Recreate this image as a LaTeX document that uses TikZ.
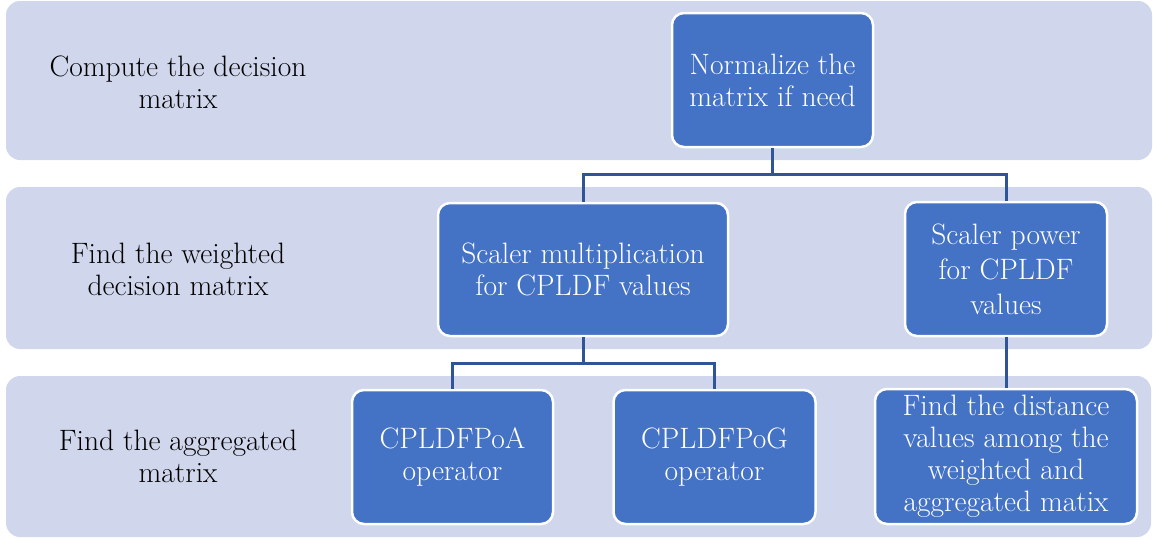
\documentclass[tikz,border=0pt]{standalone}
\definecolor{bandfill}{RGB}{208,214,235}
\definecolor{boxfill}{RGB}{68,114,196}
\definecolor{linkcol}{RGB}{47,85,151}
\tikzset{
  band/.style={fill=bandfill, draw=none, rounded corners=14pt},
  stepbox/.style={fill=boxfill, draw=white, line width=2.5pt, rounded corners=12pt,
    text=white, align=center, font=\fontsize{29.5}{32}\selectfont, inner sep=0pt},
  bandlabel/.style={align=center, font=\fontsize{29.5}{32}\selectfont, text=black, inner sep=0pt},
  link/.style={draw=linkcol, line width=3pt},
}
\begin{document}
\begin{tikzpicture}[x=1pt,y=-1pt]
\useasboundingbox (0,0) rectangle (1153,539);
% bands
\fill[band] (6,1) rectangle (1152,160);
\fill[band] (6,187) rectangle (1152,349);
\fill[band] (6,376) rectangle (1151,537);
% band labels
\node[bandlabel] (l1) at (178,82) {Compute the decision\\matrix};
\node[bandlabel] (l2) at (178,269) {Find the weighted\\decision matrix};
\node[bandlabel] (l3) at (178,456) {Find the aggregated\\matrix};
% step boxes
\node[stepbox, minimum width=201pt, minimum height=134pt] (norm) at (772.5,80) {Normalize the\\matrix if need};
\node[stepbox, minimum width=290pt, minimum height=133pt] (mult) at (583,269.5) {Scaler multiplication\\for CPLDF values};
\node[stepbox, minimum width=202pt, minimum height=134pt, font=\fontsize{29.5}{35}\selectfont] (pow) at (1006,269) {Scaler power\\for CPLDF\\values};
\node[stepbox, minimum width=201pt, minimum height=134pt] (poa) at (452.5,457) {CPLDFPoA\\operator};
\node[stepbox, minimum width=202pt, minimum height=134pt] (pog) at (714.5,457) {CPLDFPoG\\operator};
\node[stepbox, minimum width=262pt, minimum height=135pt] (dist) at (1006,456.5) {Find the distance\\values among the\\weighted and\\aggregated matix};
% connectors
\coordinate (s1) at (772.5,174);
\coordinate (s2) at (583,363);
\draw[link] (norm.south) -- (s1);
\draw[link] (mult.north) |- (s1) -| (pow.north);
\draw[link] (mult.south) -- (s2);
\draw[link] (poa.north) |- (s2) -| (pog.north);
\draw[link] (pow.south) -- (dist.north);
\end{tikzpicture}
\end{document}
